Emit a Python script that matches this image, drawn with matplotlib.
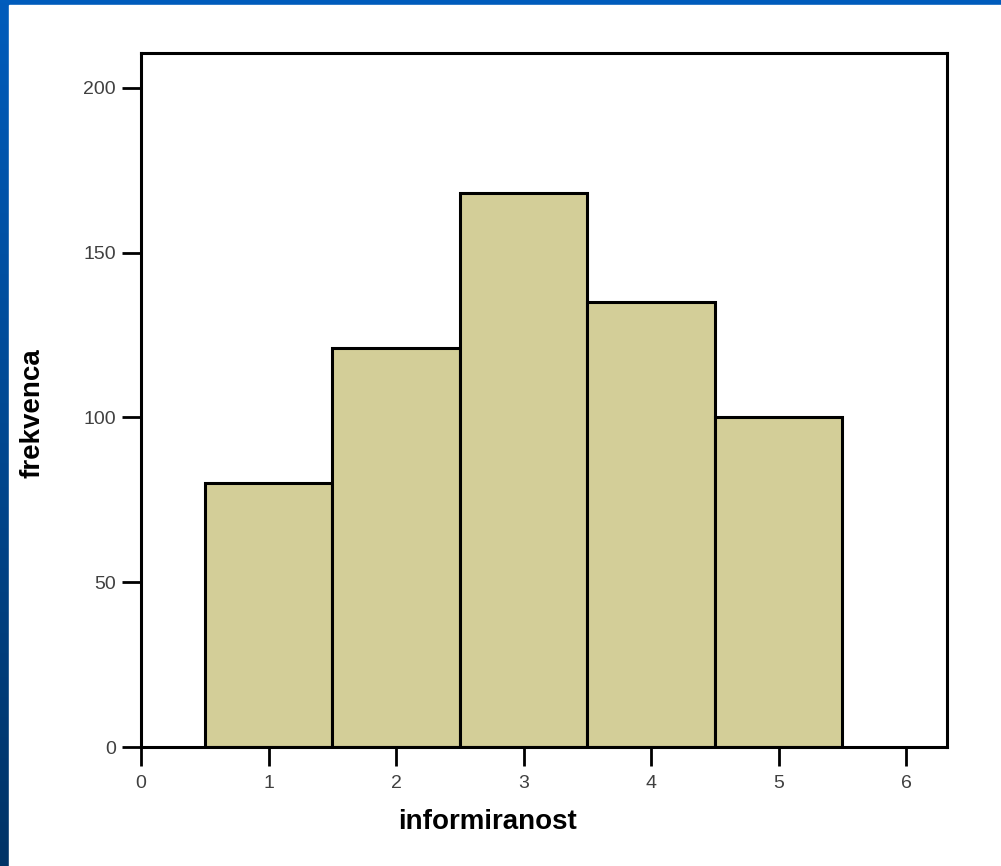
import numpy as np
import matplotlib.pyplot as plt
from matplotlib.patches import Rectangle

# dane histogramu
kategorie = [1, 2, 3, 4, 5]
frekvenca = [80, 121, 168, 135, 100]
x_ticks = [0, 1, 2, 3, 4, 5, 6]
y_ticks = [0, 50, 100, 150, 200]

plt.rcParams['font.family'] = ['Liberation Sans', 'DejaVu Sans']

W, H = 1001, 866
fig = plt.figure(figsize=(W / 100, H / 100), dpi=100)

# tło slajdu: niebieski gradient z białym polem
bg = fig.add_axes([0, 0, 1, 1], zorder=-10)
grad = np.linspace(0, 1, 256).reshape(-1, 1)
top = np.array([0x00, 0x5C, 0xBC]) / 255
bot = np.array([0x00, 0x33, 0x66]) / 255
img = top[None, None, :] * (1 - grad[:, :, None]) + bot[None, None, :] * grad[:, :, None]
bg.imshow(img, aspect='auto', extent=[0, 1, 0, 1], origin='upper')
bg.add_patch(Rectangle((9 / W, 0), 1, 1 - 5 / H, color='white', transform=bg.transAxes))
bg.set_xlim(0, 1)
bg.set_ylim(0, 1)
bg.axis('off')

ax = fig.add_axes([141 / W, 1 - 747 / H, (947 - 141) / W, (747 - 53) / H])
ax.bar(kategorie, frekvenca, width=1.0, color='#D3CE98', edgecolor='black', linewidth=2.2)
ax.set_xlim(0, 6.32)
ax.set_ylim(0, 210.6)
ax.set_xticks(x_ticks)
ax.set_yticks(y_ticks)
for s in ax.spines.values():
    s.set_linewidth(2.2)
ax.tick_params(length=14, width=2, labelsize=14, labelcolor='#404040')
ax.tick_params(axis='x', pad=6)
ax.tick_params(axis='y', pad=4)

# opisy osi
fig.text(488 / W, 1 - 822 / H, 'informiranost', fontsize=20, fontweight='bold',
         ha='center', va='center')
fig.text(33 / W, 1 - 413 / H, 'frekvenca', fontsize=20, fontweight='bold',
         ha='center', va='center', rotation=90)

fig.savefig('out.png', dpi=100)
